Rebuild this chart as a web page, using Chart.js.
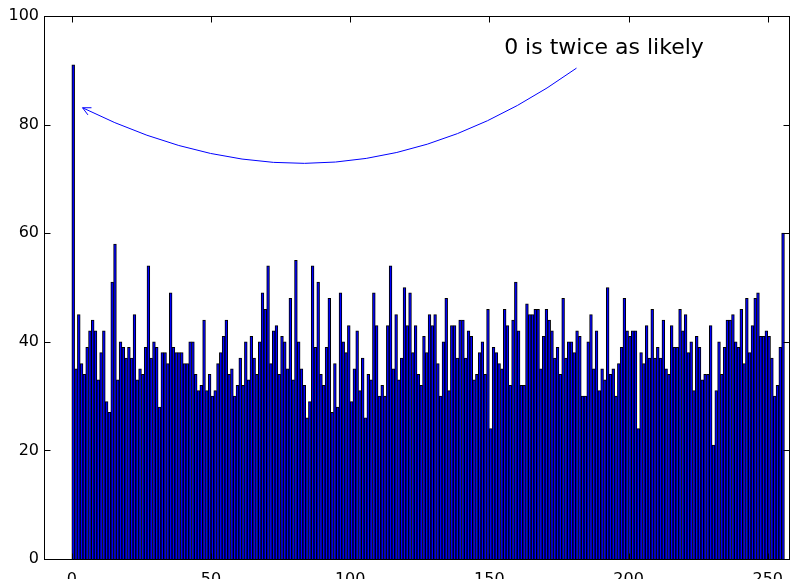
<!DOCTYPE html>
<html>
<head>
<meta charset="utf-8">
<script src="https://cdn.jsdelivr.net/npm/chart.js@4.4.0/dist/chart.umd.min.js"></script>
<style>
  body { margin: 0; background: #fff; }
  #contenedor { width: 792px; height: 579px; }
</style>
</head>
<body>
<div id="contenedor"><canvas id="histograma" width="792" height="579"></canvas></div>
<script>
  // Frecuencia de cada valor 0..255
  var valores = [
    91, 35, 45, 36, 34, 39, 42, 44, 42, 33, 38, 42, 29, 27, 51, 58, 33, 40, 39, 37, 39, 37, 45, 33, 35, 34, 39, 54, 37, 40,
    39, 28, 38, 38, 36, 49, 39, 38, 38, 38, 36, 36, 40, 40, 34, 31, 32, 44, 31, 34, 30, 31, 36, 38, 41, 44, 34, 35, 30, 32, 37, 32,
    40, 33, 41, 37, 34, 40, 49, 46, 54, 36, 42, 43, 34, 41, 40, 35, 48, 33, 55, 40, 35, 32, 26, 29, 54, 39, 51, 34, 32, 39, 48, 27,
    36, 28, 49, 40, 38, 43, 29, 35, 42, 31, 37, 26, 34, 33, 49, 43, 30, 32, 30, 43, 54, 35, 45, 33, 37, 50, 43, 49, 38, 43, 34, 32, 41,
    38, 45, 43, 45, 36, 30, 40, 48, 31, 43, 43, 37, 44, 44, 37, 42, 41, 33, 34, 38, 40, 34, 46, 24, 39, 38, 36, 35, 46, 43, 32, 44, 51,
    42, 32, 32, 47, 45, 45, 46, 46, 35, 41, 46, 44, 42, 37, 39, 34, 48, 37, 40, 40, 38, 42, 41, 30, 30, 40, 45, 35, 42, 31, 35, 33,
    50, 34, 35, 30, 36, 39, 48, 42, 41, 42, 42, 24, 38, 36, 43, 37, 46, 37, 39, 37, 44, 35, 34, 43, 39, 39, 46, 42, 45, 38, 40, 31,
    41, 39, 33, 34, 34, 43, 21, 31, 40, 34, 39, 44, 44, 45, 40, 39, 46, 36, 48, 38, 43, 48, 49, 41, 41, 42, 41, 37, 30, 32, 39, 60
  ];
  var ticksX = [0, 50, 100, 150, 200, 250];
  var ticksY = [0, 20, 40, 60, 80, 100];
  var textoNota = '0 is twice as likely';

  // Cada barra ocupa el intervalo [i, i+1), se dibuja en su centro
  var puntos = valores.map(function (v, i) { return { x: i + 0.5, y: v }; });

  // Posición de la nota y de la flecha (en unidades de los ejes)
  var nota = { x: 155.3, y: 93, desdeX: 181.3, desdeY: 90.4, haciaX: 3.85, haciaY: 83.1, rad: 0.3 };

  Chart.defaults.font.family = 'DejaVu Sans';
  Chart.defaults.font.size = 16;
  Chart.defaults.color = '#000';

  // Marco, marcas hacia dentro y la nota con flecha curva
  var marcoPlugin = {
    id: 'marco',
    afterDraw: function (chart) {
      var ctx = chart.ctx;
      var a = chart.chartArea;
      var ex = chart.scales.x, ey = chart.scales.y;
      var l = Math.round(a.left) + 0.5, r = Math.round(a.right) - 0.5;
      var t = Math.round(a.top) + 0.5, b = Math.round(a.bottom) + 0.5;
      var largo = 6;

      ctx.save();
      ctx.strokeStyle = '#000';
      ctx.lineWidth = 1;
      ctx.strokeRect(l, t, r - l, b - t);

      ctx.beginPath();
      ticksX.forEach(function (v) {
        var px = Math.round(ex.getPixelForValue(v)) + 0.5;
        ctx.moveTo(px, b); ctx.lineTo(px, b - largo);
        ctx.moveTo(px, t); ctx.lineTo(px, t + largo);
      });
      ticksY.forEach(function (v) {
        var py = Math.round(ey.getPixelForValue(v)) + 0.5;
        ctx.moveTo(l, py); ctx.lineTo(l + largo, py);
        ctx.moveTo(r, py); ctx.lineTo(r - largo, py);
      });
      ctx.stroke();

      // texto
      ctx.fillStyle = '#000';
      ctx.font = '22px "DejaVu Sans"';
      ctx.textBaseline = 'alphabetic';
      ctx.textAlign = 'left';
      ctx.fillText(textoNota, ex.getPixelForValue(nota.x), ey.getPixelForValue(nota.y));

      // flecha tipo arc3
      var x0 = ex.getPixelForValue(nota.desdeX), y0 = ey.getPixelForValue(nota.desdeY);
      var x2 = ex.getPixelForValue(nota.haciaX), y2 = ey.getPixelForValue(nota.haciaY);
      var dx = x2 - x0, dy = y2 - y0;
      var cx = (x0 + x2) / 2 + nota.rad * dy;
      var cy = (y0 + y2) / 2 - nota.rad * dx;
      ctx.strokeStyle = '#0000ff';
      ctx.beginPath();
      ctx.moveTo(x0, y0);
      ctx.quadraticCurveTo(cx, cy, x2, y2);
      ctx.stroke();

      var ang = Math.atan2(y2 - cy, x2 - cx);
      var hl = 8, hw = 4;
      ctx.beginPath();
      ctx.moveTo(x2 - hl * Math.cos(ang) - hw * Math.sin(ang), y2 - hl * Math.sin(ang) + hw * Math.cos(ang));
      ctx.lineTo(x2, y2);
      ctx.lineTo(x2 - hl * Math.cos(ang) + hw * Math.sin(ang), y2 - hl * Math.sin(ang) - hw * Math.cos(ang));
      ctx.stroke();
      ctx.restore();
    }
  };

  var histogramaConfig = {
    type: 'bar',
    data: {
      datasets: [{
        data: puntos,
        backgroundColor: '#0000ff',
        borderColor: '#000',
        borderWidth: 1,
        barPercentage: 1,
        categoryPercentage: 1
      }]
    },
    options: {
      responsive: false,
      animation: false,
      layout: { padding: { top: 16, right: 2, left: 0, bottom: 0 } },
      plugins: { legend: { display: false }, tooltip: { enabled: false } },
      scales: {
        x: {
          type: 'linear',
          min: -10,
          max: 258,
          offset: false,
          grid: { display: false },
          border: { display: false },
          ticks: { padding: 3, autoSkip: false, maxRotation: 0 },
          afterBuildTicks: function (s) { s.ticks = ticksX.map(function (v) { return { value: v }; }); },
          afterFit: function (s) { s.height = 20; }
        },
        y: {
          min: 0,
          max: 100,
          grid: { display: false, drawTicks: false },
          border: { display: false },
          ticks: { padding: 5 },
          afterBuildTicks: function (s) { s.ticks = ticksY.map(function (v) { return { value: v }; }); },
          afterFit: function (s) { s.width = 44; }
        }
      }
    },
    plugins: [marcoPlugin]
  };

  var histogramaCtx = document.getElementById('histograma').getContext('2d');
  var histogramaChart = new Chart(histogramaCtx, histogramaConfig);
</script>
</body>
</html>
